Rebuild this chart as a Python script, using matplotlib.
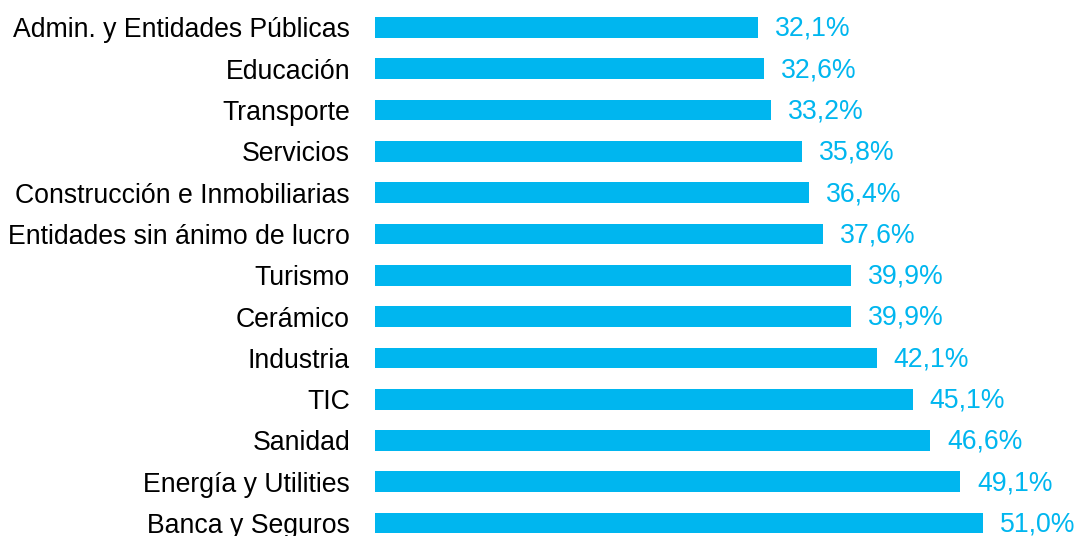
import matplotlib
matplotlib.use("Agg")
import matplotlib.pyplot as plt

categories = ["Admin. y Entidades Públicas", "Educación", "Transporte", "Servicios",
              "Construcción e Inmobiliarias", "Entidades sin ánimo de lucro", "Turismo",
              "Cerámico", "Industria", "TIC", "Sanidad", "Energía y Utilities", "Banca y Seguros"]
values = [32.1, 32.6, 33.2, 35.8, 36.4, 37.6, 39.9, 39.9, 42.1, 45.1, 46.6, 49.1, 51.0]
value_labels = ["32,1%", "32,6%", "33,2%", "35,8%", "36,4%", "37,6%", "39,9%",
                "39,9%", "42,1%", "45,1%", "46,6%", "49,1%", "51,0%"]

plt.rcParams['font.family'] = ['Liberation Sans', 'DejaVu Sans']
BLUE = "#00B6EF"

fig = plt.figure(figsize=(10.77, 5.36), dpi=100)
ax = fig.add_axes([375 / 1077, 0, 1 - 375 / 1077, 1])

ypos = list(range(len(categories)))
ax.barh(ypos, values, height=0.5, color=BLUE)
for y, v, lab in zip(ypos, values, value_labels):
    ax.annotate(lab, (v, y), xytext=(12.2, -1), textcoords="offset points",
                va="center", ha="left", color=BLUE, fontsize=19.2)

ax.set_xlim(0, 58.9)
ax.set_ylim((536 - 27.5) / 41.3, -27.5 / 41.3)
ax.set_yticks(ypos)
ax.set_yticklabels(categories, fontsize=19.2, color="black")
ax.tick_params(axis="y", length=0, pad=18)
ax.set_xticks([])
for s in ax.spines.values():
    s.set_visible(False)

fig.savefig("out.png", dpi=100)
